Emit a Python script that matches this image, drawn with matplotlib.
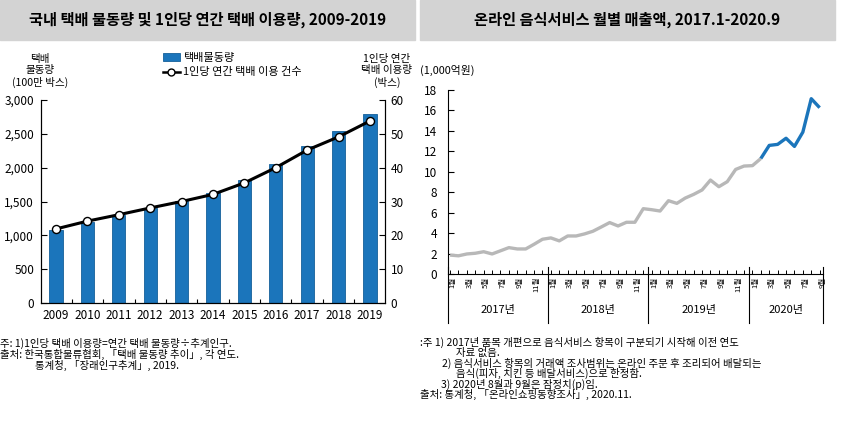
import matplotlib
matplotlib.use("Agg")
import matplotlib.pyplot as plt
import matplotlib.transforms as mtransforms
from matplotlib.patches import Rectangle, Patch
from matplotlib.lines import Line2D
from matplotlib.ticker import FuncFormatter

plt.rcParams["font.family"] = ["Noto Sans CJK KR", "DejaVu Sans"]

# ---- data: left chart ----
years = ["2009", "2010", "2011", "2012", "2013", "2014", "2015", "2016", "2017", "2018", "2019"]
parcel_volume = [1079, 1198, 1299, 1405, 1506, 1623, 1812, 2047, 2316, 2543, 2789]  # 100만 박스
per_capita = [21.9, 24.2, 26.1, 28.1, 30.0, 32.1, 35.5, 40.0, 45.2, 49.1, 53.8]  # 박스

# ---- data: right chart (2017.1 - 2020.9, monthly) ----
food_sales = [1.85, 1.78, 1.96, 2.03, 2.18, 1.96, 2.27, 2.58, 2.45, 2.45, 2.91, 3.40,
              3.53, 3.24, 3.72, 3.72, 3.92, 4.18, 4.60, 5.03, 4.70, 5.06, 5.06, 6.39,
              6.29, 6.16, 7.17, 6.91, 7.43, 7.79, 8.22, 9.19, 8.54, 9.03, 10.23, 10.56,
              10.60, 11.30, 12.58, 12.68, 13.28, 12.48, 13.88, 17.15, 16.27]
month_labels = [f"{m}월" for m in range(1, 13)] * 3 + [f"{m}월" for m in range(1, 10)]
year_labels = ["2017년", "2018년", "2019년", "2020년"]

W, H = 841, 428
fig = plt.figure(figsize=(W / 100, H / 100), dpi=100)


def px(x, y, w, h):
    return [x / W, 1 - (y + h) / H, w / W, h / H]


BAND = "#d3d3d3"
BLUE = "#1b75bb"
GRAY = "#b8b8b8"
fs_tick = 8.5

# title bands
fig.patches.append(Rectangle((0, 1 - 40 / H), 415 / W, 40 / H, transform=fig.transFigure,
                             color=BAND, zorder=0))
fig.patches.append(Rectangle((420 / W, 1 - 40 / H), 415 / W, 40 / H, transform=fig.transFigure,
                             color=BAND, zorder=0))
fig.text(208 / W, 1 - 20 / H, "국내 택배 물동량 및 1인당 연간 택배 이용량, 2009-2019",
         ha="center", va="center", fontsize=11, fontweight="bold")
fig.text(627 / W, 1 - 20 / H, "온라인 음식서비스 월별 매출액, 2017.1-2020.9",
         ha="center", va="center", fontsize=11, fontweight="bold")

# ---------------- left chart ----------------
ax = fig.add_axes(px(41, 100, 344, 203))
xs = list(range(len(years)))
ax.bar(xs, parcel_volume, width=0.42, color=BLUE, edgecolor="#15609a", linewidth=0.6, zorder=2)
ax.set_xlim(-0.48, len(years) - 0.52)
ax.set_ylim(0, 3000)
ax.set_yticks(range(0, 3001, 500))
ax.yaxis.set_major_formatter(FuncFormatter(lambda v, p: f"{int(v):,}"))
ax.set_xticks(xs)
ax.set_xticklabels(years)
ax.set_xticks([i + 0.5 for i in xs[:-1]], minor=True)
ax.tick_params(axis="x", which="major", length=0, pad=4, labelsize=fs_tick)
ax.tick_params(axis="x", which="minor", direction="in", length=3, width=0.8)
ax.tick_params(axis="y", direction="in", length=4, width=0.8, pad=5, labelsize=fs_tick)
ax.spines["top"].set_visible(False)
for s in ["left", "right", "bottom"]:
    ax.spines[s].set_linewidth(0.8)

ax2 = ax.twinx()
ax2.plot(xs, per_capita, color="black", lw=2.2, marker="o", markersize=5.8,
         markerfacecolor="white", markeredgecolor="black", markeredgewidth=1.0, zorder=3)
ax2.set_ylim(0, 60)
ax2.set_yticks(range(0, 61, 10))
ax2.tick_params(axis="y", direction="in", length=4, width=0.8, pad=4, labelsize=fs_tick)
ax2.spines["top"].set_visible(False)
ax2.spines["right"].set_linewidth(0.8)

fig.text(40 / W, 1 - 71 / H, "택배\n물동량\n(100만 박스)", ha="center", va="center",
         fontsize=7.6, linespacing=1.2)
fig.text(387 / W, 1 - 71 / H, "1인당 연간\n택배 이용량\n(박스)", ha="center", va="center",
         fontsize=7.6, linespacing=1.2)

handles = [Patch(facecolor=BLUE, edgecolor="#15609a", linewidth=0.6),
           Line2D([0], [0], color="black", lw=1.8, marker="o", markersize=5,
                  markerfacecolor="white", markeredgecolor="black")]
fig.legend(handles, ["택배물동량", "1인당 연간 택배 이용 건수"], loc="upper left",
           bbox_to_anchor=(163 / W, 1 - 53 / H), frameon=False, fontsize=8,
           handlelength=1.5, handleheight=0.7, handletextpad=0.3, labelspacing=0.4,
           borderaxespad=0, borderpad=0)

# ---------------- right chart ----------------
bx = fig.add_axes(px(448, 90, 375, 184))
mi = list(range(len(food_sales)))
split = 37
bx.plot(mi[:split + 1], food_sales[:split + 1], color=GRAY, lw=2.4, solid_capstyle="butt")
bx.plot(mi[split:], food_sales[split:], color=BLUE, lw=2.4, solid_capstyle="butt")
bx.set_ylim(0, 18)
bx.set_yticks(range(0, 19, 2))
bx.set_xlim(-0.25, 44.4)
bx.tick_params(axis="y", direction="in", length=4, width=0.8, pad=8, labelsize=fs_tick)
bx.set_xticks(mi)
bx.set_xticklabels([])
bx.tick_params(axis="x", direction="in", length=3, width=0.7)
for s in ["top", "right"]:
    bx.spines[s].set_visible(False)
for s in ["left", "bottom"]:
    bx.spines[s].set_linewidth(0.8)

trans = mtransforms.blended_transform_factory(bx.transData, bx.transAxes)
bounds = [-0.25, 11.6, 23.6, 35.6, 44.4]
for b in bounds:
    bx.plot([b, b], [-49 / 184, 7 / 184], transform=trans, color="black", lw=0.8, clip_on=False)
for i, lab in enumerate(month_labels):
    if (i % 12) % 2 == 0:
        bx.text(i + 0.3, -3 / 184, lab, transform=trans, rotation=90, ha="center", va="top",
                fontsize=5.5)
for k, lab in enumerate(year_labels):
    cx = (bounds[k] + bounds[k + 1]) / 2
    bx.text(cx, -36 / 184, lab, transform=trans, ha="center", va="center", fontsize=8)

fig.text(420 / W, 1 - 70 / H, "(1,000억원)", ha="left", va="center", fontsize=7.8)

# ---------------- notes ----------------
fn = 7.5
left_notes = [
    (0, 343, "주: 1)1인당 택배 이용량=연간 택배 물동량÷추계인구."),
    (0, 354, "출처: 한국통합물류협회, 「택배 물동량 추이」, 각 연도."),
    (35, 365, "통계청, 「장래인구추계」, 2019."),
]
right_notes = [
    (420, 342, ":주 1) 2017년 품목 개편으로 음식서비스 항목이 구분되기 시작해 이전 연도"),
    (456, 352.5, "자료 없음."),
    (442, 363, "2) 음식서비스 항목의 거래액 조사범위는 온라인 주문 후 조리되어 배달되는"),
    (456, 373.5, "음식(피자, 치킨 등 배달서비스)으로 한정함."),
    (441, 384, "3) 2020년 8월과 9월은 잠정치(p)임."),
    (420, 394.5, "출처: 통계청, 「온라인쇼핑동향조사」, 2020.11."),
]
for x, y, t in left_notes + right_notes:
    fig.text(x / W, 1 - y / H, t, ha="left", va="center", fontsize=fn)

fig.savefig("out.png", dpi=100)
